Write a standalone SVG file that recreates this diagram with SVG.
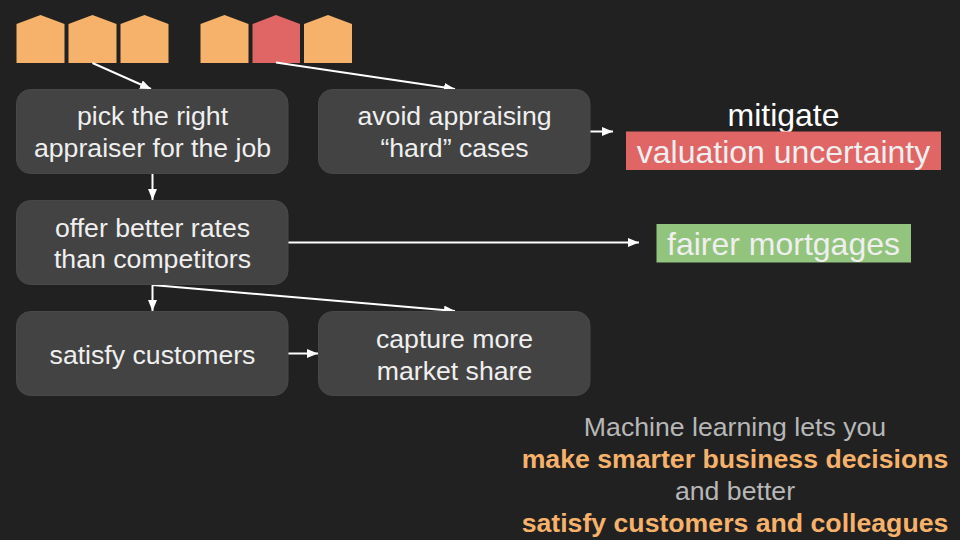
<svg xmlns="http://www.w3.org/2000/svg" width="960" height="540" viewBox="0 0 960 540">
<style>
text{font-family:"Liberation Sans",Arial,sans-serif;text-anchor:middle}
.box{fill:#434343;stroke:#484848;stroke-width:1}
.t{font-size:26.67px;fill:#efefef}
.o{fill:#f6b26b}
.r{fill:#e06666}
.c{fill:none;stroke:#fff;stroke-width:2}
.g{font-size:26.67px;fill:#b7b7b7}
.b{font-size:26.67px;font-weight:bold;fill:#f6b26b}
</style>
<defs><marker id="a" markerUnits="userSpaceOnUse" markerWidth="12" markerHeight="12" refX="11" refY="4.5" orient="auto"><path d="M0 0L11 4.500L0 9Z" fill="#fff"/></marker></defs>
<rect width="960" height="540" fill="#212121"/>
<g id="house1"><path class="o" d="M16.500 63V24L40.500 15L64.500 24V63Z"/></g>
<g id="house2"><path class="o" d="M68.500 63V24L92.500 15L116.500 24V63Z"/></g>
<g id="house3"><path class="o" d="M120.500 63V24L144.500 15L168.500 24V63Z"/></g>
<g id="house4"><path class="o" d="M200.500 63V24L224.500 15L248.500 24V63Z"/></g>
<g id="house5"><path class="r" d="M252.500 63V24L276 15L300 24V63Z"/></g>
<g id="house6"><path class="o" d="M304 63V24L328 15L352 24V63Z"/></g>
<g id="connectors">
<path class="c" marker-end="url(#a)" d="M92.500 63L151 89"/>
<path class="c" marker-end="url(#a)" d="M276 62.500L455 89"/>
<path class="c" marker-end="url(#a)" d="M152.500 174V200"/>
<path class="c" marker-end="url(#a)" d="M590 131.500H613"/>
<path class="c" marker-end="url(#a)" d="M288 242.500H639"/>
<path class="c" marker-end="url(#a)" d="M152.500 285V311"/>
<path class="c" marker-end="url(#a)" d="M152.500 285L455 311"/>
<path class="c" marker-end="url(#a)" d="M288 353.500H318"/>
</g>
<g id="pick"><rect class="box" x="16.500" y="89.500" width="271.500" height="84" rx="14"/><text class="t" x="152.500" y="125">pick the right</text><text class="t" x="152.500" y="157">appraiser for the job</text></g>
<g id="avoid"><rect class="box" x="318.500" y="89.500" width="271.500" height="84" rx="14"/><text class="t" x="454.500" y="125">avoid appraising</text><text class="t" x="454.500" y="157">“hard” cases</text></g>
<g id="offer"><rect class="box" x="16.500" y="200.500" width="271.500" height="84" rx="14"/><text class="t" x="152.500" y="236.500">offer better rates</text><text class="t" x="152.500" y="268">than competitors</text></g>
<g id="satisfy"><rect class="box" x="16.500" y="311.500" width="271.500" height="84" rx="14"/><text class="t" x="152.500" y="363.500">satisfy customers</text></g>
<g id="capture"><rect class="box" x="318.500" y="311.500" width="271.500" height="84" rx="14"/><text class="t" x="454.500" y="347.500">capture more</text><text class="t" x="454.500" y="379.500">market share</text></g>
<g id="mitigate"><text x="783.500" y="125.500" font-size="32" fill="#fff">mitigate</text><rect class="r" x="626" y="131.500" width="315" height="38.500"/><text x="783.500" y="163" font-size="32" fill="#efefef">valuation uncertainty</text></g>
<g id="fairer"><rect x="656.500" y="224" width="254.500" height="38.500" fill="#93c47d"/><text x="783.500" y="255" font-size="32" fill="#efefef">fairer mortgages</text></g>
<g id="summary"><text class="g" x="735" y="436">Machine learning lets you</text><text class="b" x="735" y="468">make smarter business decisions</text><text class="g" x="735" y="500">and better</text><text class="b" x="735" y="532">satisfy customers and colleagues</text></g>
</svg>
